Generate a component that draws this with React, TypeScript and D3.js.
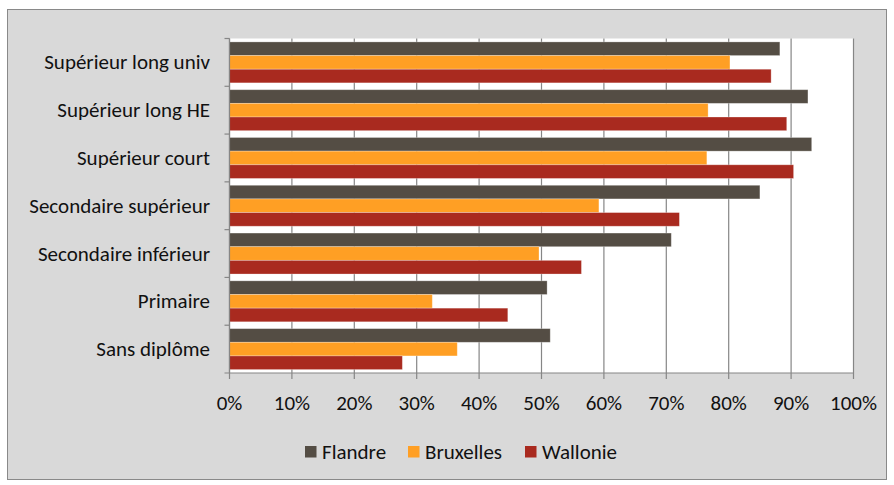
import React from "react";
import * as d3 from "d3";

const categories = [
  "Supérieur long univ",
  "Supérieur long HE",
  "Supérieur court",
  "Secondaire supérieur",
  "Secondaire inférieur",
  "Primaire",
  "Sans diplôme",
];
const seriesNames = ["Flandre", "Bruxelles", "Wallonie"];
const flandre = [88.2, 92.7, 93.3, 85.0, 70.8, 50.9, 51.4];
const bruxelles = [80.2, 76.7, 76.5, 59.2, 49.6, 32.5, 36.5];
const wallonie = [86.8, 89.3, 90.4, 72.1, 56.4, 44.6, 27.7];
const xTicks = [0, 10, 20, 30, 40, 50, 60, 70, 80, 90, 100];

const colors = ["#544D44", "#FF9F24", "#A92A1F"];
const FONT = "Carlito, Lato, 'Open Sans', sans-serif";

export default function App() {
  const W = 894;
  const H = 485;
  const left = 229.5;
  const right = 853.5;
  const top = 38.5;
  const bottom = 373;

  const x = d3.scaleLinear().domain([0, 100]).range([left, right]);
  const y = d3.scaleBand<string>().domain(categories).range([top, bottom]).paddingInner(0).paddingOuter(0);
  const inner = d3
    .scaleBand<string>()
    .domain(seriesNames)
    .range([0, y.bandwidth()])
    .paddingInner(0)
    .paddingOuter(0.25);
  const series = [flandre, bruxelles, wallonie];

  const legendItems = [
    { name: "Flandre", sx: 305, tx: 322 },
    { name: "Bruxelles", sx: 408, tx: 425 },
    { name: "Wallonie", sx: 525, tx: 542 },
  ];

  return (
    <svg width={W} height={H} style={{ position: "absolute", left: 0, top: 0 }}>
      <rect x={7.5} y={9.5} width={879} height={470} fill="#D9D9D9" stroke="#898989" strokeWidth={1} />
      <rect x={left} y={top} width={right - left} height={bottom - top} fill="#FFFFFF" />
      {xTicks.map((t) => (
        <line key={"g" + t} x1={x(t)} x2={x(t)} y1={top} y2={bottom + 6} stroke="#868686" strokeWidth={1.2} />
      ))}
      {categories.map((c, i) =>
        series.map((s, j) => (
          <rect
            key={c + j}
            x={x(0)}
            y={(y(c) ?? 0) + (inner(seriesNames[j]) ?? 0)}
            width={x(s[i]) - x(0)}
            height={inner.bandwidth()}
            fill={colors[j]}
            stroke="#ffffff"
            strokeOpacity={0.35}
            strokeWidth={0.8}
          />
        ))
      )}
      <line x1={left} x2={left} y1={top} y2={bottom} stroke="#868686" strokeWidth={1.2} />
      <line x1={left - 5} x2={right} y1={bottom} y2={bottom} stroke="#868686" strokeWidth={1.2} />
      {categories.map((c) => (
        <line key={"t" + c} x1={left - 5} x2={left} y1={y(c)} y2={y(c)} stroke="#868686" strokeWidth={1.2} />
      ))}
      {categories.map((c) => (
        <text
          key={"l" + c}
          x={210}
          y={(y(c) ?? 0) + y.bandwidth() / 2}
          textAnchor="end"
          dominantBaseline="central"
          fontFamily={FONT}
          fontSize={21}
          fill="#111111"
        >
          {c}
        </text>
      ))}
      {xTicks.map((t) => (
        <text
          key={"x" + t}
          x={x(t)}
          y={403}
          textAnchor="middle"
          dominantBaseline="central"
          fontFamily={FONT}
          fontSize={21}
          fill="#111111"
        >
          {t + "%"}
        </text>
      ))}
      {legendItems.map((l, i) => (
        <g key={l.name}>
          <rect x={l.sx} y={446} width={11.5} height={11.5} fill={colors[i]} />
          <text x={l.tx} y={452} dominantBaseline="central" fontFamily={FONT} fontSize={21} fill="#111111">
            {l.name}
          </text>
        </g>
      ))}
    </svg>
  );
}
